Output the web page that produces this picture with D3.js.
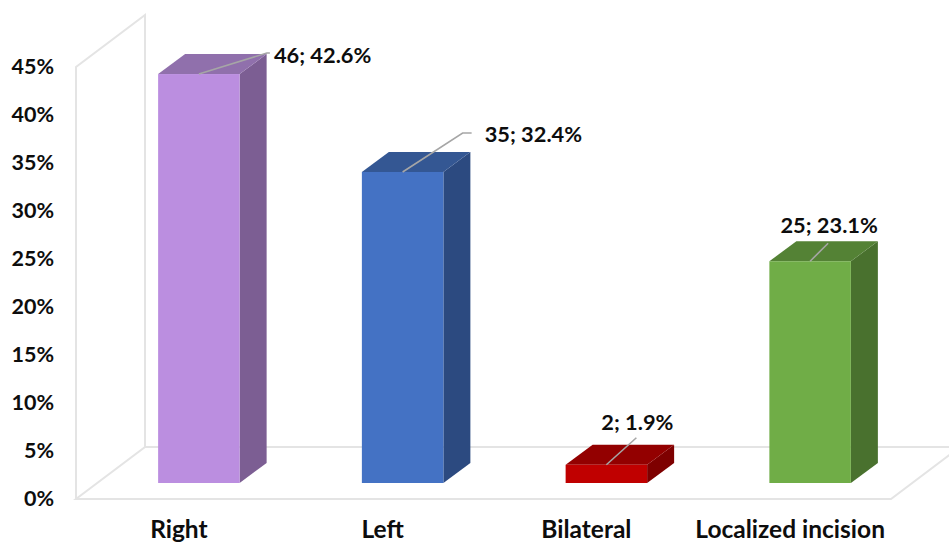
<html>

<head>
  <script src="https://cdnjs.cloudflare.com/ajax/libs/d3/7.8.5/d3.min.js" charset="utf-8"></script>
  <title>Incision side</title>
  <style>
  html, body {
    margin: 0;
    background-color: #fff;
    overflow: hidden;
  }
  text {
    font-family: Lato, "Open Sans", sans-serif;
    font-weight: bold;
    fill: #0d0d0d;
  }
  </style>
</head>

<body>
  <div id="chart"></div>
  <script>

  // values
  var categories = ["Right", "Left", "Bilateral", "Localized incision"];
  var counts = [46, 35, 2, 25];
  var shares = [42.6, 32.4, 1.9, 23.1];
  var yTicks = [0, 5, 10, 15, 20, 25, 30, 35, 40, 45];
  var faceColors = ["#BB8EE0", "#4472C4", "#C00000", "#70AD47"];
  var sideColors = ["#7C5E93", "#2C4A80", "#7E0000", "#49712E"];
  var topColors = ["#9070AC", "#345793", "#930000", "#548235"];

  var width = 949,
    height = 544;

  // 3d box of the plot: front plane, then how far the walls go back
  var plot = { left: 76, right: 891, bottom: 499, top: 67 },
    depth = { x: 69, y: 52 },
    barInset = { x: 21, y: 16 },
    barDepth = { x: 27, y: 20 };

  // leader line ends relative to the middle of the bar's front top edge, and label anchor
  var leaders = [
    { pts: [[68, -21], [71, -21]], tx: 75, ty: -11, anchor: "start" },
    { pts: [[60, -39], [69, -39]], tx: 82, ty: -30, anchor: "start" },
    { pts: [[30, -27]], tx: 31, ty: -35, anchor: "middle" },
    { pts: [[18, -18]], tx: 19, ty: -28, anchor: "middle" }
  ];

  var svg = d3.select("#chart").append("svg").attr("width", width).attr("height", height);

  var y = d3.scaleLinear().domain([0, 45]).range([plot.bottom, plot.top]);

  var xLabel = d3.scaleBand().domain(categories).range([plot.left, plot.right]);

  var xBar = d3.scaleBand().domain(categories)
    .range([plot.left + barInset.x, plot.right + barInset.x])
    .paddingInner(0.6).paddingOuter(0.3);

  // walls and floor
  var wallPath = d3.path();
  wallPath.moveTo(plot.left, plot.bottom);
  wallPath.lineTo(plot.left, plot.top);
  wallPath.lineTo(plot.left + depth.x, plot.top - depth.y);
  wallPath.lineTo(plot.left + depth.x, plot.bottom - depth.y);
  wallPath.lineTo(plot.left, plot.bottom);
  wallPath.lineTo(plot.right, plot.bottom);
  wallPath.lineTo(plot.right + depth.x, plot.bottom - depth.y);
  wallPath.lineTo(plot.left + depth.x, plot.bottom - depth.y);

  svg.append("path").attr("d", wallPath.toString())
    .attr("fill", "none")
    .attr("stroke", "#E4E4E4")
    .attr("stroke-width", 2);

  // axes
  var yAxis = d3.axisLeft(y).tickValues(yTicks).tickSize(0).tickPadding(0)
    .tickFormat(function(d) { return d + "%"; });

  var yG = svg.append("g").attr("transform", "translate(54,0)").call(yAxis);
  yG.select(".domain").remove();
  yG.attr("font-family", null).attr("font-size", null);
  yG.selectAll("text").style("font-size", "21.5px");

  var xAxis = d3.axisBottom(xLabel).tickSize(0).tickPadding(0);
  var xG = svg.append("g").attr("transform", "translate(1,521)").call(xAxis);
  xG.select(".domain").remove();
  xG.attr("font-family", null).attr("font-size", null);
  xG.selectAll("text").style("font-size", "24.5px");

  // bars
  var rows = categories.map(function(c, i) { return { cat: c, i: i, share: shares[i], count: counts[i] }; });
  var bw = xBar.bandwidth();
  var base = y(0) - barInset.y;

  function barTop(d) { return y(d.share) - barInset.y; }

  var bars = svg.selectAll(".bar").data(rows).enter().append("g").attr("class", "bar");

  bars.append("path")
    .attr("fill", function(d) { return sideColors[d.i]; })
    .attr("d", function(d) {
      var x1 = xBar(d.cat) + bw;
      return d3.line()([[x1, barTop(d)], [x1 + barDepth.x, barTop(d) - barDepth.y], [x1 + barDepth.x, base - barDepth.y], [x1, base]]) + "Z";
    });

  bars.append("path")
    .attr("fill", function(d) { return topColors[d.i]; })
    .attr("d", function(d) {
      var x0 = xBar(d.cat);
      return d3.line()([[x0, barTop(d)], [x0 + barDepth.x, barTop(d) - barDepth.y], [x0 + bw + barDepth.x, barTop(d) - barDepth.y], [x0 + bw, barTop(d)]]) + "Z";
    });

  bars.append("rect")
    .attr("fill", function(d) { return faceColors[d.i]; })
    .attr("x", function(d) { return xBar(d.cat); })
    .attr("y", barTop)
    .attr("width", bw)
    .attr("height", function(d) { return base - barTop(d); });

  // leader lines and data labels
  bars.append("path")
    .attr("fill", "none")
    .attr("stroke", "#A6A6A6")
    .attr("stroke-width", 1.6)
    .attr("d", function(d) {
      var cx = xBar(d.cat) + bw / 2, cy = barTop(d);
      var pts = [[cx, cy]].concat(leaders[d.i].pts.map(function(p) { return [cx + p[0], cy + p[1]]; }));
      return d3.line()(pts);
    });

  bars.append("text")
    .attr("x", function(d) { return xBar(d.cat) + bw / 2 + leaders[d.i].tx; })
    .attr("y", function(d) { return barTop(d) + leaders[d.i].ty; })
    .attr("text-anchor", function(d) { return leaders[d.i].anchor; })
    .style("font-size", "21.8px")
    .text(function(d) { return d.count + "; " + d.share.toFixed(1) + "%"; });

  </script>
</body>

</html>
